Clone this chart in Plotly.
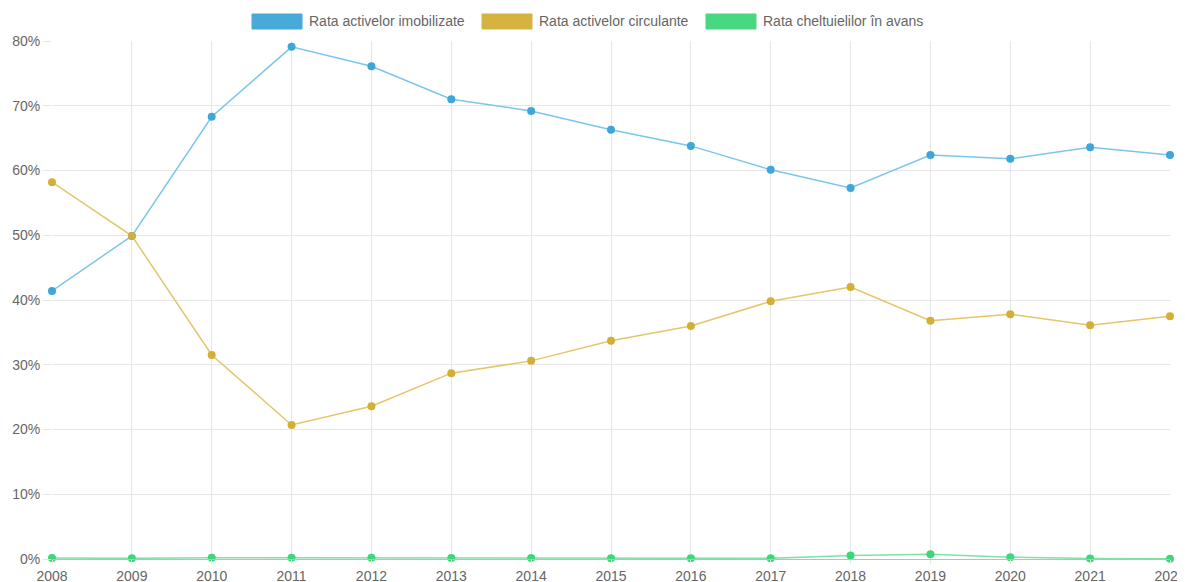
import plotly.graph_objects as go

years = list(range(2008, 2023))
imobilizate = [41.4, 49.9, 68.3, 79.1, 76.1, 71.0, 69.2, 66.3, 63.8, 60.1, 57.3, 62.4, 61.8, 63.6, 62.4]
circulante = [58.2, 49.9, 31.5, 20.7, 23.6, 28.7, 30.6, 33.7, 36.0, 39.8, 42.0, 36.8, 37.8, 36.1, 37.5]
avans = [0.15, 0.1, 0.2, 0.2, 0.2, 0.15, 0.15, 0.1, 0.1, 0.1, 0.54, 0.74, 0.28, 0.08, 0.03]

names = ["Rata activelor imobilizate", "Rata activelor circulante", "Rata cheltuielilor în avans"]
line_colors = ["#7cc6ea", "#e3c66a", "#80e2a6"]
dot_colors = ["#3ea6d8", "#d4af37", "#3ed67a"]

# page body has an 8px margin, so the figure is a bit smaller than the window
W, H = 1177, 574
L, R, T, B = 44, 15, 33, 23
OFF = 8
FONT = "Liberation Sans, Arial, sans-serif"

fig = go.Figure()
for vals, name, lc, dc in zip([imobilizate, circulante, avans], names, line_colors, dot_colors):
    fig.add_trace(go.Scatter(
        x=years, y=vals, name=name, mode="lines+markers",
        line=dict(color=lc, width=1.5),
        marker=dict(color=dc, size=8),
        cliponaxis=False, showlegend=False,
        hovertemplate="%{x}: %{y:.2f}%<extra>" + name + "</extra>",
    ))

# manual Chart.js-style legend (window pixel positions)
pw = W - L - R
ph = H - T - B


def px_x(v):
    return (v - OFF - L) / pw


def px_y(v):
    return (H - B - (v - OFF)) / ph


legend_x = [252, 482, 706]
for x0, name, dc in zip(legend_x, names, dot_colors):
    fig.add_shape(type="rect", xref="paper", yref="paper",
                  x0=px_x(x0), x1=px_x(x0 + 50), y0=px_y(29), y1=px_y(14),
                  fillcolor=dc, line=dict(color=dc, width=1), opacity=0.95)
    fig.add_annotation(xref="paper", yref="paper", x=px_x(x0 + 55), y=px_y(21),
                       text=name, showarrow=False, xanchor="left", yanchor="middle",
                       font=dict(size=14, color="#666666", family=FONT))

fig.update_layout(
    width=W, height=H,
    margin=dict(l=L, r=R, t=T, b=B),
    plot_bgcolor="white", paper_bgcolor="white",
    font=dict(family=FONT, size=14, color="#666666"),
    hovermode="closest",
)
fig.update_xaxes(
    range=[2008, 2022], tickmode="array", tickvals=years, ticktext=[str(y) for y in years],
    showgrid=True, gridcolor="#e6e6e6", gridwidth=1,
    ticks="outside", ticklen=4, tickcolor="#e6e6e6",
    showline=True, linecolor="#bdbdbd", linewidth=1,
    zeroline=False, automargin=False, fixedrange=True,
    ticklabeloverflow="allow",
)
fig.update_yaxes(
    range=[0, 80], dtick=10, ticksuffix="%",
    showgrid=True, gridcolor="#e6e6e6", gridwidth=1,
    ticks="outside", ticklen=8, tickcolor="#e6e6e6",
    showline=False, zeroline=False, automargin=False, fixedrange=True,
    ticklabeloverflow="allow",
)

fig.write_html("out.html")
